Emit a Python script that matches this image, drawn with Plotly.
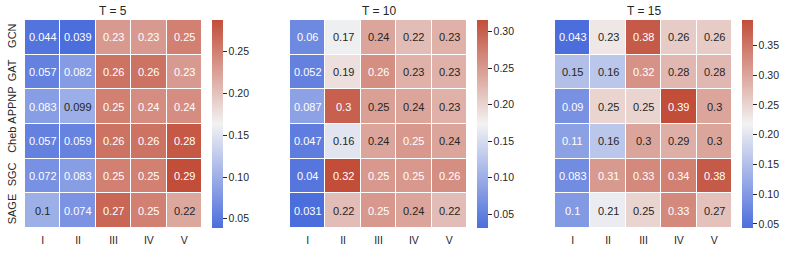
import plotly.graph_objects as go

models = ["GCN", "GAT", "APPNP", "Cheb", "SGC", "SAGE"]
levels = ["I", "II", "III", "IV", "V"]
titles = ["T = 5", "T = 10", "T = 15"]

t5 = [
    [0.044, 0.039, 0.23, 0.23, 0.25],
    [0.057, 0.082, 0.26, 0.26, 0.23],
    [0.083, 0.099, 0.25, 0.24, 0.24],
    [0.057, 0.059, 0.26, 0.26, 0.28],
    [0.072, 0.083, 0.25, 0.25, 0.288],
    [0.10, 0.074, 0.27, 0.25, 0.22],
]
t10 = [
    [0.06, 0.17, 0.24, 0.22, 0.23],
    [0.052, 0.19, 0.26, 0.23, 0.23],
    [0.087, 0.30, 0.2455, 0.24, 0.23],
    [0.047, 0.16, 0.24, 0.252, 0.24],
    [0.04, 0.316, 0.252, 0.252, 0.26],
    [0.031, 0.22, 0.252, 0.24, 0.22],
]
t15 = [
    [0.043, 0.23, 0.38, 0.26, 0.26],
    [0.15, 0.16, 0.32, 0.28, 0.28],
    [0.09, 0.25, 0.25, 0.393, 0.30],
    [0.11, 0.16, 0.30, 0.29, 0.30],
    [0.083, 0.312, 0.33, 0.34, 0.38],
    [0.10, 0.21, 0.25, 0.33, 0.27],
]
panels = [t5, t10, t15]
cbar_ticks = [
    [0.05, 0.10, 0.15, 0.20, 0.25],
    [0.05, 0.10, 0.15, 0.20, 0.25, 0.30],
    [0.05, 0.10, 0.15, 0.20, 0.25, 0.30, 0.35],
]

# diverging colormap (blue - light - red), linear in RGB
BLUE = (76, 110, 220)
MID = (242, 242, 242)
RED = (194, 78, 58)
colorscale = [[0.0, "rgb(%d,%d,%d)" % BLUE], [0.5, "rgb(%d,%d,%d)" % MID], [1.0, "rgb(%d,%d,%d)" % RED]]


def cmap(t):
    if t <= 0.5:
        a, b, f = BLUE, MID, t / 0.5
    else:
        a, b, f = MID, RED, (t - 0.5) / 0.5
    return [a[i] + (b[i] - a[i]) * f for i in range(3)]


def lum(rgb):
    out = []
    for c in rgb:
        c = c / 255
        out.append(c / 12.92 if c <= 0.03928 else ((c + 0.055) / 1.055) ** 2.4)
    return 0.2126 * out[0] + 0.7152 * out[1] + 0.0722 * out[2]


W, H = 789, 253
FONT = "Liberation Sans, Arial, sans-serif"
TXT = "#262626"
hm_left = [25, 290, 555]
hm_w = 177
hm_top, hm_bot = 20, 228
cb_gap = 10
cb_th = 11

fig = go.Figure()
annotations = []
for k, z in enumerate(panels):
    zmin = min(min(r) for r in z)
    zmax = max(max(r) for r in z)
    x0 = hm_left[k] / W
    x1 = (hm_left[k] + hm_w) / W
    xa = "x" if k == 0 else "x%d" % (k + 1)
    ya = "y" if k == 0 else "y%d" % (k + 1)
    fig.add_trace(go.Heatmap(
        z=z, x=levels, y=models, zmin=zmin, zmax=zmax,
        colorscale=colorscale, xgap=1, ygap=1,
        xaxis=xa, yaxis=ya, hoverongaps=False,
        colorbar=dict(
            x=(hm_left[k] + hm_w + cb_gap) / W, xanchor="left", xref="paper",
            y=(H - (hm_top + hm_bot) / 2) / H, yanchor="middle", yref="paper",
            len=hm_bot - hm_top, lenmode="pixels", xpad=0, ypad=0,
            thickness=cb_th, thicknessmode="pixels",
            outlinewidth=0, tickmode="array", tickvals=cbar_ticks[k],
            ticktext=["%.2f" % v for v in cbar_ticks[k]],
            ticks="outside", ticklen=4, tickwidth=1, tickcolor=TXT,
            tickfont=dict(family=FONT, size=10.5, color=TXT),
        ),
    ))
    ax = dict(domain=[x0, x1], anchor=ya, showgrid=False, zeroline=False,
              ticks="", tickfont=dict(family=FONT, size=10.5, color=TXT),
              showline=False, automargin=False, ticklabelstandoff=4)
    ay = dict(domain=[(H - hm_bot) / H, (H - hm_top) / H], anchor=xa,
              autorange="reversed", showgrid=False, zeroline=False, ticks="",
              tickangle=-90, showticklabels=(k == 0), automargin=False,
              ticklabelstandoff=6,
              tickfont=dict(family=FONT, size=11, color=TXT))
    fig.layout[("xaxis" if k == 0 else "xaxis%d" % (k + 1))] = ax
    fig.layout[("yaxis" if k == 0 else "yaxis%d" % (k + 1))] = ay
    for i, row in enumerate(z):
        for j, v in enumerate(row):
            t = (v - zmin) / (zmax - zmin)
            col = "#262626" if lum(cmap(t)) > 0.408 else "#ffffff"
            annotations.append(dict(
                x=levels[j], y=models[i], xref=xa, yref=ya,
                text=format(v, ".2g"), showarrow=False,
                font=dict(family=FONT, size=11, color=col),
            ))
    annotations.append(dict(
        x=(x0 + x1) / 2, y=(H - 11) / H, xref="paper", yref="paper",
        text=titles[k], showarrow=False, xanchor="center", yanchor="middle",
        font=dict(family=FONT, size=12, color=TXT),
    ))

fig.update_layout(
    width=W, height=H, margin=dict(l=0, r=0, t=0, b=0, autoexpand=False),
    paper_bgcolor="white", plot_bgcolor="white",
    annotations=annotations, showlegend=False,
)
fig.write_html("out.html", config={"displayModeBar": False},
               post_script="document.body.style.margin='0px';")
